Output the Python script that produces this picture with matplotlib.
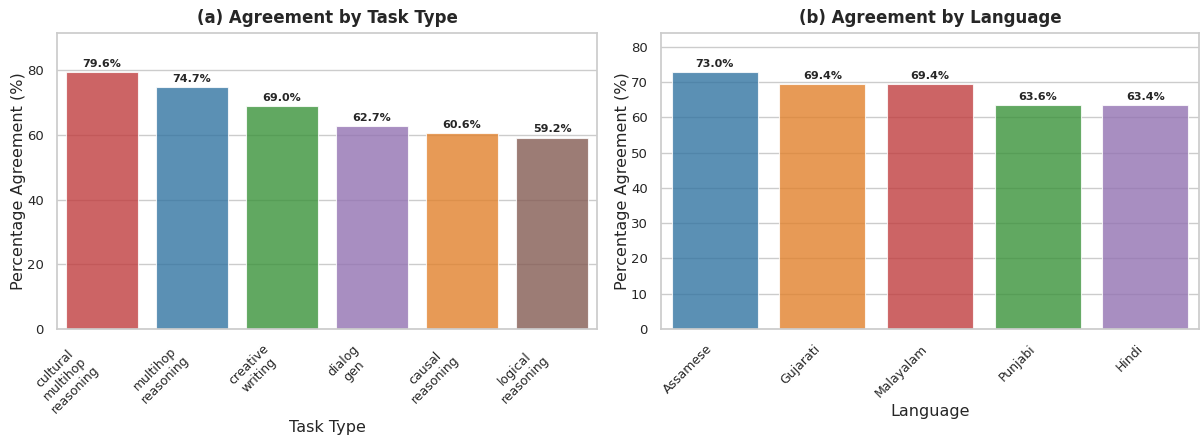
import matplotlib
matplotlib.use("Agg")
import matplotlib.pyplot as plt
import seaborn as sns

# Agreement by task type
task_labels = ["cultural\nmultihop\nreasoning", "multihop\nreasoning", "creative\nwriting",
               "dialog\ngen", "causal\nreasoning", "logical\nreasoning"]
task_values = [79.6, 74.7, 69.0, 62.7, 60.6, 59.2]
task_colors = ["tab:red", "tab:blue", "tab:green", "tab:purple", "tab:orange", "tab:brown"]

# Agreement by language
lang_labels = ["Assamese", "Gujarati", "Malayalam", "Punjabi", "Hindi"]
lang_values = [73.0, 69.4, 69.4, 63.6, 63.4]
lang_colors = ["tab:blue", "tab:orange", "tab:red", "tab:green", "tab:purple"]

sns.set_theme(style="whitegrid")
plt.rcParams["font.family"] = ["DejaVu Sans"]

fig = plt.figure(figsize=(12, 4.4), dpi=100)
ax1 = fig.add_axes([57 / 1200, 111 / 440, 540 / 1200, 296 / 440])
ax2 = fig.add_axes([661 / 1200, 111 / 440, 538 / 1200, 296 / 440])


def draw(ax, labels, values, colors, title, xlabel):
    x = range(len(values))
    cols = [sns.desaturate(c, 0.75) for c in colors]
    ax.bar(x, values, width=0.8, color=cols, alpha=0.8, edgecolor="white", linewidth=0.8)
    for xi, v in zip(x, values):
        ax.text(xi, v + max(values) * 0.012, f"{v:.1f}%", ha="center", va="bottom",
                fontsize=8, fontweight="bold", color="#262626")
    ax.set_xlim(-0.5, len(values) - 0.5)
    ax.set_ylim(0, max(values) * 1.15)
    ax.set_xticks(list(x))
    ax.set_xticklabels(labels, rotation=45, ha="right", rotation_mode="default",
                       multialignment="center", fontsize=9)
    ax.tick_params(axis="y", labelsize=9.5)
    ax.grid(axis="x", visible=False)
    ax.set_title(title, fontsize=12, fontweight="bold", pad=7)
    ax.set_xlabel(xlabel, fontsize=11.5, labelpad=3)
    ax.set_ylabel("Percentage Agreement (%)", fontsize=11.5, labelpad=1)
    for s in ax.spines.values():
        s.set_color("#cccccc")


draw(ax1, task_labels, task_values, task_colors, "(a) Agreement by Task Type", "Task Type")
draw(ax2, lang_labels, lang_values, lang_colors, "(b) Agreement by Language", "Language")

fig.savefig("out.png", dpi=100)
